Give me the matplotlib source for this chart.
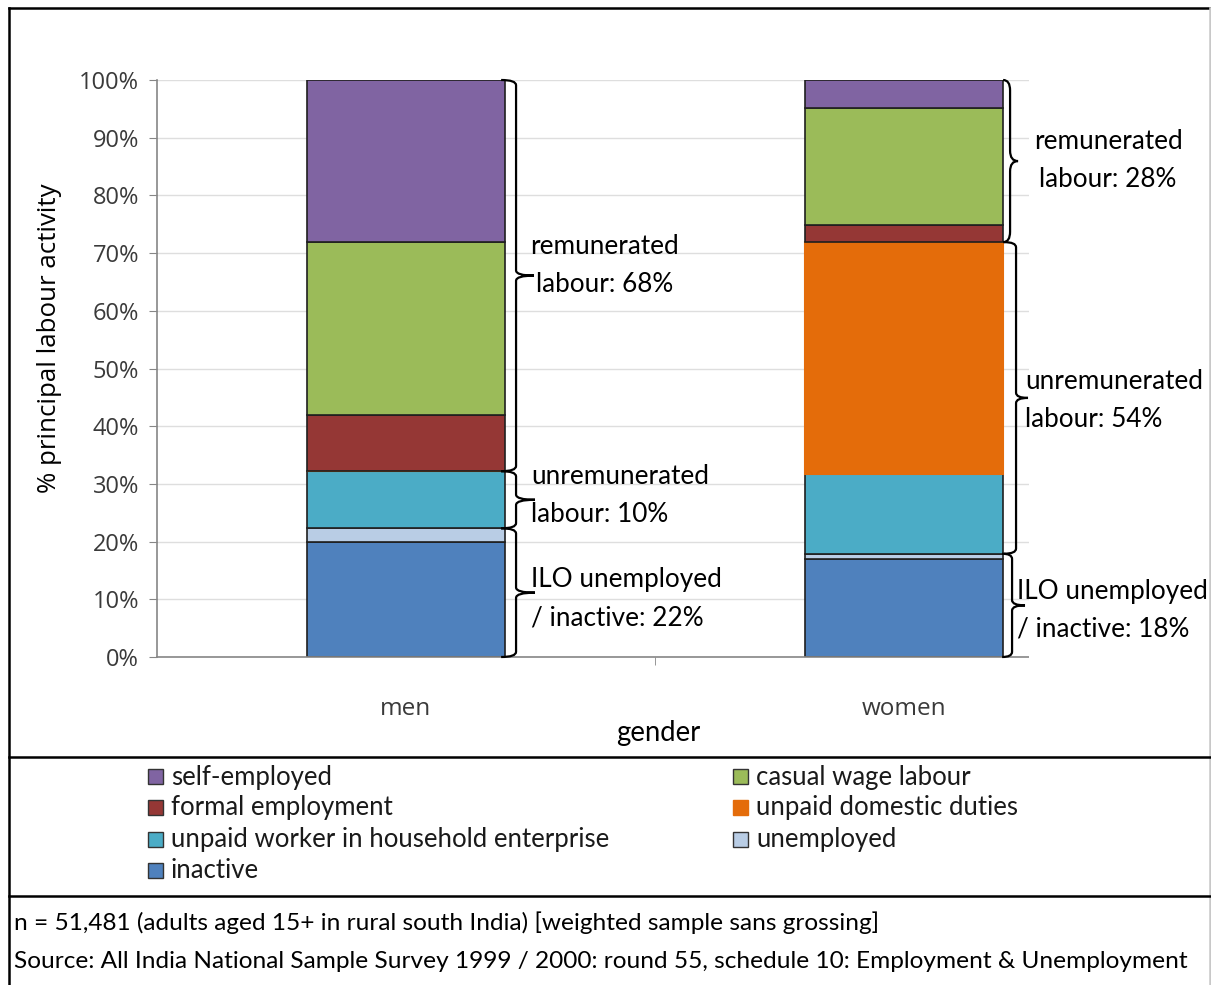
import numpy as np
import matplotlib
matplotlib.use("Agg")
from matplotlib import pyplot as plt
from matplotlib.path import Path
from matplotlib.patches import PathPatch, Rectangle
from matplotlib.lines import Line2D

"DATA"
genders = ['men', 'women']
# stacking order, bottom to top
series = ['inactive', 'unemployed', 'unpaid worker in household enterprise',
          'unpaid domestic duties', 'formal employment', 'casual wage labour',
          'self-employed']
inactive = [19.9, 16.9]
unemployed = [2.4, 1.0]
unpaid_worker = [9.9, 13.9]
unpaid_domestic = [0.0, 40.1]
formal = [9.7, 2.9]
casual = [30.0, 20.3]
self_employed = [28.1, 4.9]

colors = ['#4F81BD', '#B9CDE5', '#4BACC6', '#E46C0A', '#953735', '#9BBB59', '#8064A2']
values = [inactive, unemployed, unpaid_worker, unpaid_domestic, formal, casual, self_employed]

W, H = 1211, 985
def fx(px):
    return px / W
def fy(py):
    return 1 - py / H

fig = plt.figure(figsize=(W / 100, H / 100), dpi=100)
ax = fig.add_axes([fx(157), fy(657), (1153 - 157) / W, (657 - 80) / H])

tick_font = 'Open Sans'
text_font = 'Lato'
grey = '#3a3a3a'

"BARS"
x = np.arange(len(genders))
bottom = np.zeros(len(genders))
for name, vals, col in zip(series, values, colors):
    vals = np.array(vals)
    if name == 'unpaid domestic duties':
        ax.bar(x, vals, 0.398, bottom=bottom, color=col, edgecolor=col,
               linewidth=1.5, zorder=2)
    else:
        ax.bar(x, vals, 0.398, bottom=bottom, color=col, edgecolor='#1f1f1f',
               linewidth=1.2, zorder=2)
    bottom += vals

"AXES"
ax.set_xlim(-0.5, 1.5)
ax.set_ylim(0, 100)
ax.set_yticks(np.arange(0, 101, 10))
ax.set_yticklabels(['%d%%' % v for v in range(0, 101, 10)],
                   fontsize=17, family=tick_font, color=grey)
ax.set_xticks(x)
ax.set_xticklabels(genders, fontsize=17.5, family=tick_font, color=grey)
ax.set_xticks([0.5], minor=True)
ax.tick_params(axis='x', which='major', length=0, pad=29)
ax.tick_params(axis='x', which='minor', length=6, color='#868686', direction='out')
ax.tick_params(axis='y', length=6, color='#868686', direction='out', pad=7)
ax.grid(axis='y', color='#dedede', linewidth=1, zorder=0)
ax.set_axisbelow(True)
for s in ['top', 'right']:
    ax.spines[s].set_visible(False)
for s in ['left', 'bottom']:
    ax.spines[s].set_color('#868686')
    ax.spines[s].set_linewidth(1.2)

# white panel behind the women's annotations
ax.add_patch(Rectangle((1.25, -3), 0.35, 106, facecolor='white', edgecolor='none',
                       zorder=3, clip_on=False))

"BRACES"
def brace(x0, y0, y1, hook, tip, r):
    ym = (y0 + y1) / 2.0
    verts = [(x0 - hook, y0), (x0, y0), (x0, y0 + r), (x0, ym - r), (x0, ym),
             (x0 + tip, ym), (x0, ym), (x0, ym + r), (x0, y1 - r), (x0, y1),
             (x0 - hook, y1)]
    codes = [Path.MOVETO, Path.CURVE3, Path.CURVE3, Path.LINETO, Path.CURVE3,
             Path.CURVE3, Path.CURVE3, Path.CURVE3, Path.LINETO, Path.CURVE3,
             Path.CURVE3]
    ax.add_patch(PathPatch(Path(verts, codes), facecolor='none', edgecolor='black',
                           linewidth=1.6, zorder=5, clip_on=False))

ilo = np.array(inactive) + np.array(unemployed)
unrem = np.array(unpaid_worker) + np.array(unpaid_domestic)
rem = np.array(formal) + np.array(casual) + np.array(self_employed)

brace(0.221, 0, ilo[0], 0.030, 0.038, 0.9)
brace(0.221, ilo[0], ilo[0] + unrem[0], 0.030, 0.038, 0.9)
brace(0.221, ilo[0] + unrem[0], 100, 0.030, 0.036, 0.9)
brace(1.217, 0, ilo[1], 0.020, 0.026, 0.9)
brace(1.225, ilo[1], ilo[1] + unrem[1], 0.024, 0.024, 0.9)
brace(1.213, ilo[1] + unrem[1], 100, 0.014, 0.016, 1.8)

tk = dict(fontsize=18.8, family=text_font, color='black', zorder=6, linespacing=1.65,
          va='center')
ax.text(0.398, 67.9, 'remunerated\nlabour: %.0f%%' % rem[0], ha='center', **tk)
ax.text(0.251, 28.0, 'unremunerated\nlabour: %.0f%%' % unrem[0], ha='left', **tk)
ax.text(0.251, 10.1, 'ILO unemployed\n/ inactive: %.0f%%' % ilo[0], ha='left', **tk)
ax.text(1.41, 86.0, 'remunerated\nlabour: %.0f%%' % rem[1], ha='center', **tk)
ax.text(1.243, 44.5, 'unremunerated\nlabour: %.0f%%' % unrem[1], ha='left', **tk)
ax.text(1.227, 8.1, 'ILO unemployed\n/ inactive: %.0f%%' % ilo[1], ha='left', **tk)

"LABELS"
fig.text(fx(50), fy(338), '% principal labour activity', rotation=90, ha='center',
         va='center', fontsize=18.6, family=tick_font, color='black')
fig.text(fx(658), fy(733), 'gender', ha='center', va='center', fontsize=19.8,
         family=text_font, color='black')

"LEGEND"
legend_rows = [('self-employed', 6, 148, 777), ('casual wage labour', 5, 733, 777),
               ('formal employment', 4, 148, 808), ('unpaid domestic duties', 3, 733, 808),
               ('unpaid worker in household enterprise', 2, 148, 840),
               ('unemployed', 1, 733, 840), ('inactive', 0, 148, 871)]
for lab, idx, lx, ly in legend_rows:
    ec = colors[idx] if idx == 3 else '#333333'
    fig.add_artist(Rectangle((fx(lx), fy(ly + 7)), 15 / W, 15 / H, facecolor=colors[idx],
                             edgecolor=ec, linewidth=1, transform=fig.transFigure))
    fig.text(fx(lx + 23), fy(ly), lab, ha='left', va='center', fontsize=18.5,
             family=text_font, color='#1a1a1a')

"NOTES"
fig.text(fx(14), fy(923), 'n = 51,481 (adults aged 15+ in rural south India) '
         '[weighted sample sans grossing]', ha='left', va='center', fontsize=17.6,
         family=text_font)
fig.text(fx(14), fy(962), 'Source: All India National Sample Survey 1999 / 2000: '
         'round 55, schedule 10: Employment & Unemployment', ha='left', va='center',
         fontsize=17.6, family=text_font)

"FRAME"
for (x0, y0, x1, y1, c) in [(9, 8, 1210, 8, 'black'), (9, 8, 9, 985, 'black'),
                            (1210, 8, 1210, 985, '#c8c8c8'),
                            (9, 757, 1210, 757, 'black'), (9, 896, 1210, 896, 'black')]:
    fig.add_artist(Line2D([fx(x0), fx(x1)], [fy(y0), fy(y1)], color=c, linewidth=1.8,
                          transform=fig.transFigure))

fig.savefig('out.png', dpi=100)
